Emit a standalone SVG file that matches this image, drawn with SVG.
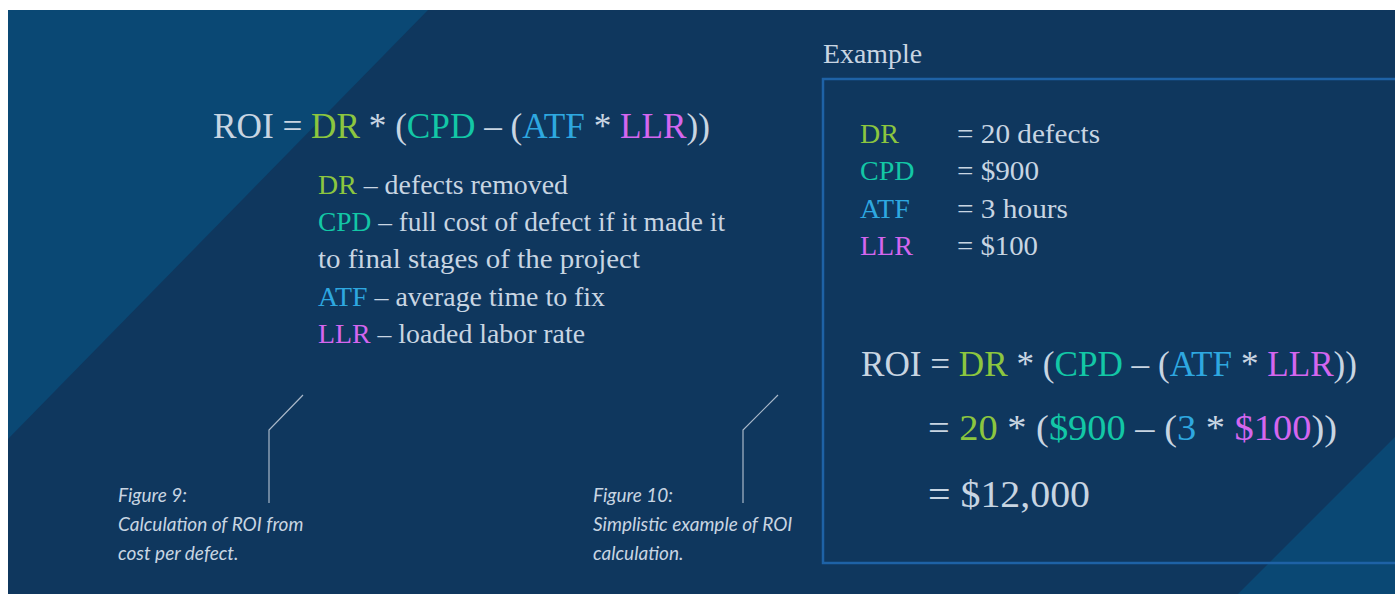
<svg xmlns="http://www.w3.org/2000/svg" width="1395" height="594" viewBox="0 0 1395 594">
<style>
.t{font-family:"Liberation Serif",serif;fill:#c8d5e2}
.cap{font-family:Lato,"Liberation Sans",sans-serif;font-style:italic;font-size:19px;fill:#c8d5e2}
.g{fill:#8cc63f}.c{fill:#13c7a6}.b{fill:#2ea8e0}.m{fill:#d466ef}
.lead{fill:none;stroke:#a9b8c9;stroke-width:1.2}
</style>
<rect x="0" y="0" width="1395" height="594" fill="#ffffff"/>
<rect x="8" y="10" width="1387" height="584" fill="#0f375e"/>
<polygon points="8,10 428,10 8,439" fill="#0a4874"/>
<polygon points="1395,437 1395,594 1238,594" fill="#0a4874"/>

<g id="formula">
<text class="t" x="213" y="138" font-size="35" textLength="497" lengthAdjust="spacingAndGlyphs">ROI = <tspan class="g">DR</tspan> * (<tspan class="c">CPD</tspan> – (<tspan class="b">ATF</tspan> * <tspan class="m">LLR</tspan>))</text>
</g>
<g id="definitions" font-size="28">
<text class="t" x="318" y="194" textLength="250" lengthAdjust="spacingAndGlyphs"><tspan class="g">DR</tspan> – defects removed</text>
<text class="t" x="318" y="231" textLength="407" lengthAdjust="spacingAndGlyphs"><tspan class="c">CPD</tspan> – full cost of defect if it made it</text>
<text class="t" x="318" y="268" textLength="322" lengthAdjust="spacingAndGlyphs">to final stages of the project</text>
<text class="t" x="318" y="306" textLength="287" lengthAdjust="spacingAndGlyphs"><tspan class="b">ATF</tspan> – average time to fix</text>
<text class="t" x="318" y="343" textLength="267" lengthAdjust="spacingAndGlyphs"><tspan class="m">LLR</tspan> – loaded labor rate</text>
</g>

<g id="caption9">
<text class="cap" x="118" y="502">Figure 9:</text>
<text class="cap" x="118" y="531">Calculation of ROI from</text>
<text class="cap" x="118" y="560">cost per defect.</text>
</g>
<g id="caption10">
<text class="cap" x="593" y="502">Figure 10:</text>
<text class="cap" x="593" y="531">Simplistic example of ROI</text>
<text class="cap" x="593" y="560">calculation.</text>
</g>

<g id="connectors">
<polyline class="lead" points="269,503 269,430 303,395"/>
<polyline class="lead" points="743,503 743,430 778,395"/>
</g>

<g id="example">
<text class="t" x="823" y="63" font-size="27" textLength="99" lengthAdjust="spacingAndGlyphs">Example</text>
<rect x="823" y="79" width="600" height="484" fill="none" stroke="#1e62a6" stroke-width="2.5"/>
<g font-size="28">
<text class="t g" x="860" y="143">DR</text>
<text class="t" x="957" y="143" textLength="143" lengthAdjust="spacingAndGlyphs">= 20 defects</text>
<text class="t c" x="860" y="180">CPD</text>
<text class="t" x="957" y="180" textLength="82" lengthAdjust="spacingAndGlyphs">= $900</text>
<text class="t b" x="860" y="218">ATF</text>
<text class="t" x="957" y="218" textLength="111" lengthAdjust="spacingAndGlyphs">= 3 hours</text>
<text class="t m" x="860" y="255">LLR</text>
<text class="t" x="957" y="255" textLength="81" lengthAdjust="spacingAndGlyphs">= $100</text>
</g>
<g font-size="35">
<text class="t" x="861" y="376" textLength="496" lengthAdjust="spacingAndGlyphs">ROI = <tspan class="g">DR</tspan> * (<tspan class="c">CPD</tspan> – (<tspan class="b">ATF</tspan> * <tspan class="m">LLR</tspan>))</text>
<text class="t" x="928" y="440" textLength="409" lengthAdjust="spacingAndGlyphs">= <tspan class="g">20</tspan> * (<tspan class="c">$900</tspan> – (<tspan class="b">3</tspan> * <tspan class="m">$100</tspan>))</text>
<text class="t" x="928" y="507" font-size="37" textLength="162" lengthAdjust="spacingAndGlyphs">= $12,000</text>
</g>
</g>
</svg>
